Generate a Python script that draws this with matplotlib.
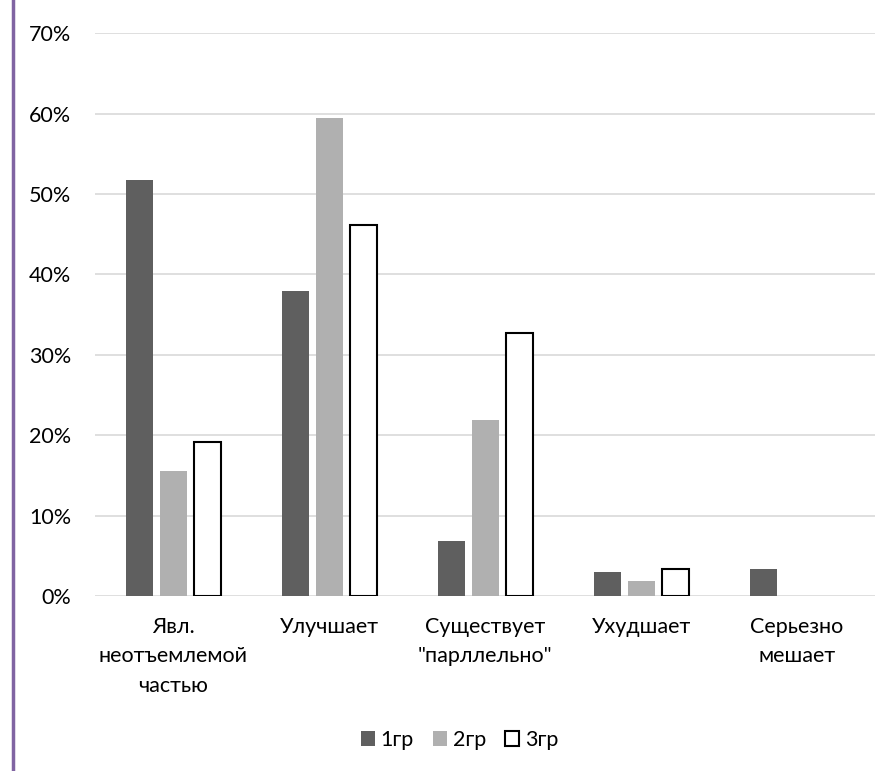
import numpy as np
import matplotlib.pyplot as plt
from matplotlib.patches import Patch
from matplotlib.lines import Line2D

# data (percent)
categories = ['Явл.\nнеотъемлемой\nчастью', 'Улучшает', 'Существует\n"парллельно"',
              'Ухудшает', 'Серьезно\nмешает']
groups = ['1гр', '2гр', '3гр']
gr1 = [51.7, 37.9, 6.8, 3.0, 3.3]
gr2 = [15.5, 59.4, 21.9, 1.9, 0.0]
gr3 = [19.2, 46.2, 32.7, 3.4, 0.0]
yticks = [0, 10, 20, 30, 40, 50, 60, 70]

plt.rcParams['font.family'] = ['Lato', 'DejaVu Sans']

fig = plt.figure(figsize=(8.89, 7.71), dpi=100)
ax = fig.add_axes([0.1069, 0.2270, 0.8774, 0.7299])

x = np.arange(len(categories))
w = 0.173
step = 0.218
ax.bar(x - step, gr1, w, color='#5f5f5f', zorder=3)
ax.bar(x, gr2, w, color='#b0b0b0', zorder=3)
# 3гр: white bars with black edge, skip zero values
v3 = np.array(gr3)
ax.bar(x[v3 > 0] + step, v3[v3 > 0], w, facecolor='white', edgecolor='black',
       linewidth=1.5, zorder=3)

ax.set_xlim(-0.5, len(categories) - 0.5)
ax.set_ylim(0, 70)
ax.set_yticks(yticks)
ax.set_yticklabels([f'{t}%' for t in yticks], fontsize=15.5)
ax.set_xticks(x)
ax.set_xticklabels(categories, fontsize=15.5, linespacing=1.6, va='top')
ax.tick_params(axis='both', length=0)
ax.tick_params(axis='y', pad=17)
ax.tick_params(axis='x', pad=15)
ax.grid(axis='y', color='#d9d9d9', linewidth=1.2, zorder=0)
for s in ax.spines.values():
    s.set_visible(False)

handles = [Patch(facecolor='#5f5f5f'), Patch(facecolor='#b0b0b0'),
           Patch(facecolor='white', edgecolor='black', linewidth=1.5)]
fig.legend(handles, groups, loc='center', bbox_to_anchor=(0.517, 0.040), ncol=3,
           frameon=False, fontsize=15.5, handlelength=0.65, handleheight=0.65,
           handletextpad=0.25, columnspacing=0.9)

# purple border on the left side of the slide
fig.add_artist(Line2D([0.0146, 0.0146], [0, 1], color='#8064a2', linewidth=2.5,
                      transform=fig.transFigure))

fig.savefig('out.png', dpi=100)
